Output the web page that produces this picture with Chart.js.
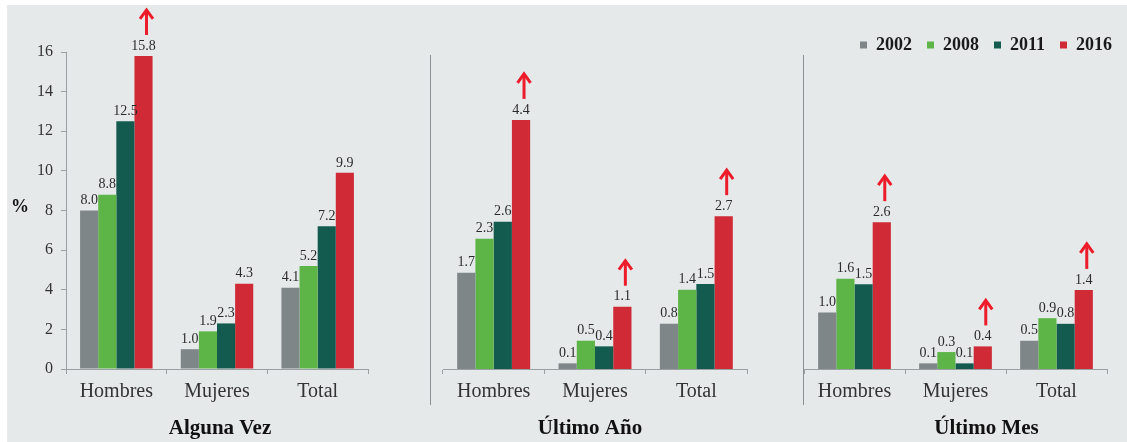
<!DOCTYPE html>
<html>
<head>
<meta charset="utf-8">
<script src="https://cdn.jsdelivr.net/npm/chart.js@4"></script>
<style>
  body { margin: 0; background: #fff; }
  #wrap { position: relative; width: 1127px; height: 442px; overflow: hidden; }
  #bg { position: absolute; left: 7px; top: 5px; width: 1120px; height: 437px; background: #e6e9ea; }
  canvas { position: absolute; top: 0; }
</style>
</head>
<body>
<div id="wrap">
  <div id="bg"></div>
  <canvas id="c1" width="380" height="442" style="left:0px"></canvas>
  <canvas id="c2" width="400" height="442" style="left:380px"></canvas>
  <canvas id="c3" width="347" height="442" style="left:780px"></canvas>
</div>
<script>
// categories and series
var categories = ['Hombres', 'Mujeres', 'Total'];
var years = ['2002', '2008', '2011', '2016'];
var colors = ['#7f8688', '#5db548', '#135b4f', '#cf2a36'];

// one row per year, one value per category
var algunaVez  = [[8.0, 1.0, 4.1], [8.8, 1.9, 5.2], [12.5, 2.3, 7.2], [15.8, 4.3, 9.9]];
var ultimoAnio = [[1.7, 0.1, 0.8], [2.3, 0.5, 1.4], [2.6, 0.4, 1.5], [4.4, 1.1, 2.7]];
var ultimoMes  = [[1.0, 0.1, 0.5], [1.6, 0.3, 0.9], [1.5, 0.1, 0.8], [2.6, 0.4, 1.4]];

// red arrow over the 2016 bar of each category
var arrowsVez  = [true, false, false];
var arrowsAnio = [true, true, true];
var arrowsMes  = [true, true, true];

var serif = '"Liberation Serif", "DejaVu Serif", serif';
var axisGray = '#9a9fa1';

// value labels, arrows, separators and panel titles
var panelDeco = {
  id: 'panelDeco',
  afterDraw: function(chart, args, o) {
    var ctx = chart.ctx, ca = chart.chartArea;
    ctx.save();
    ctx.font = '14px ' + serif;
    ctx.fillStyle = '#2b2b2b';
    ctx.textAlign = 'center';
    ctx.textBaseline = 'bottom';
    chart.data.datasets.forEach(function(ds, i) {
      chart.getDatasetMeta(i).data.forEach(function(bar, j) {
        ctx.fillText(ds.data[j].toFixed(1), bar.x, bar.y - 3);
      });
    });

    var last = chart.data.datasets.length - 1;
    ctx.strokeStyle = '#ec1c2a';
    ctx.lineWidth = 3;
    ctx.lineCap = 'butt';
    chart.getDatasetMeta(last).data.forEach(function(bar, j) {
      if (!o.arrows[j]) return;
      var x = bar.x + 3, y0 = bar.y - 21, y1 = bar.y - 47;
      ctx.beginPath();
      ctx.moveTo(x, y0);
      ctx.lineTo(x, y1 + 1);
      ctx.stroke();
      ctx.beginPath();
      ctx.moveTo(x - 6.5, y1 + 10);
      ctx.lineTo(x, y1 + 1);
      ctx.lineTo(x + 6.5, y1 + 10);
      ctx.stroke();
    });

    if (o.sepOffset !== null) {
      ctx.strokeStyle = '#8d9193';
      ctx.lineWidth = 1;
      var sx = Math.round(ca.left - o.sepOffset) + 0.5;
      ctx.beginPath();
      ctx.moveTo(sx, ca.bottom - 314);
      ctx.lineTo(sx, ca.bottom + 36);
      ctx.stroke();
    }

    ctx.fillStyle = '#111';
    ctx.font = 'bold 21px ' + serif;
    ctx.textBaseline = 'middle';
    ctx.fillText(o.title, (ca.left + ca.right) / 2 + o.titleShift, 429);

    if (o.unit) {
      ctx.font = 'bold 18px ' + serif;
      ctx.fillText(o.unit, 20, (ca.top + ca.bottom) / 2 - 3);
    }
    ctx.restore();
  }
};

function makePanel(id, values, opt) {
  var scales = {
    x: {
      grid: { display: true, drawOnChartArea: false, tickLength: 5, color: axisGray, offset: true },
      border: { color: axisGray },
      ticks: { font: { family: serif, size: 20 }, color: '#333', padding: 6 },
      afterFit: function(s) { s.height = 73; }
    },
    y: opt.y
  };
  if (opt.y2) scales.y2 = opt.y2;

  return new Chart(document.getElementById(id), {
    type: 'bar',
    data: {
      labels: categories,
      datasets: years.map(function(y, i) {
        return {
          label: y,
          data: values[i],
          backgroundColor: colors[i],
          borderWidth: 0,
          barPercentage: 1,
          categoryPercentage: 0.72
        };
      })
    },
    options: {
      responsive: false,
      animation: false,
      layout: { padding: opt.padding },
      plugins: {
        legend: opt.legend || { display: false },
        tooltip: { enabled: false },
        panelDeco: opt.deco
      },
      scales: scales
    },
    plugins: [panelDeco]
  });
}

// Alguna Vez, with the visible % axis
makePanel('c1', algunaVez, {
  padding: { left: 0, right: 12, top: 52, bottom: 0 },
  y: {
    min: 0, max: 16,
    ticks: { stepSize: 2, font: { family: serif, size: 16 }, color: '#333', padding: 8 },
    grid: { drawOnChartArea: false, tickLength: 5, color: axisGray },
    border: { color: axisGray },
    afterFit: function(s) { s.width = 66; }
  },
  deco: { arrows: arrowsVez, sepOffset: null, title: 'Alguna Vez', titleShift: 3, unit: '%' }
});

// Último Año, own hidden scale
makePanel('c2', ultimoAnio, {
  padding: { left: 63, right: 33, top: 52, bottom: 0 },
  y: { display: false, min: 0, max: 5.6 },
  deco: { arrows: arrowsAnio, sepOffset: 13, title: 'Último Año', titleShift: -5, unit: null }
});

// Último Mes, carries the legend
makePanel('c3', ultimoMes, {
  padding: { left: 24, right: 0, top: 21, bottom: 0 },
  y: { display: false, min: 0, max: 5.4 },
  y2: {
    position: 'right', type: 'linear',
    grid: { display: false }, ticks: { display: false }, border: { display: false },
    afterFit: function(s) { s.width = 20; }
  },
  legend: {
    display: true, position: 'top', align: 'end',
    labels: {
      boxWidth: 7, boxHeight: 7, padding: 15, color: '#1a1a1a',
      font: { family: serif, size: 18, weight: 'bold' }
    }
  },
  deco: { arrows: arrowsMes, sepOffset: 1, title: 'Último Mes', titleShift: 31, unit: null }
});
</script>
</body>
</html>
